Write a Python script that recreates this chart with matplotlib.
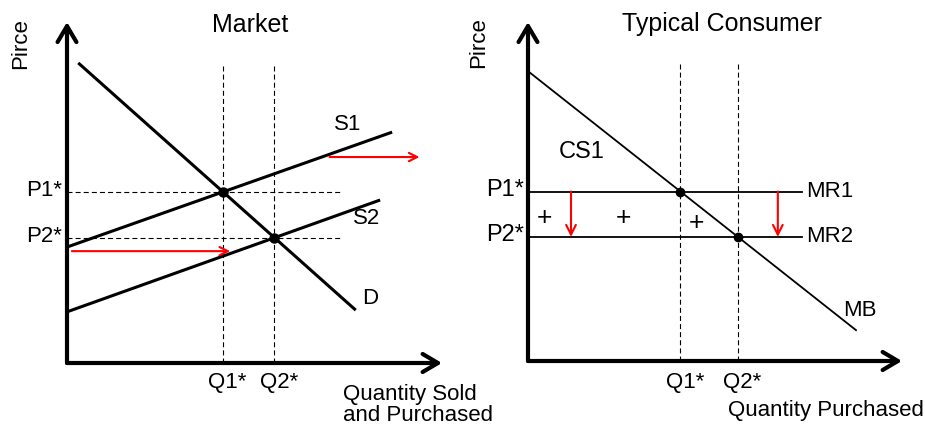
import matplotlib
matplotlib.use("Agg")
import matplotlib.pyplot as plt

plt.rcParams['font.family'] = ['Liberation Sans', 'DejaVu Sans']

# ---------------- Market panel data (quantity, price units) ----------------
demand_q = [0.3, 7.7]
demand_p = [8.8, 1.55]
s1_q = [0.0, 8.67]
s1_p = [3.4, 6.77]
s2_q = [0.0, 8.35]
s2_p = [1.5, 4.78]
shift_top_q = [7.0, 9.4]
shift_top_p = 6.04
shift_bot_q = [0.13, 4.35]
shift_bot_p = 3.28
market_guide_top = 8.77
market_guide_right = 7.33

# ---------------- Typical consumer panel data ----------------
mb_q = [0.0, 8.77]
mb_p = [8.55, 0.91]
mr1_p = 5.0
mr2_p = 3.66
mr_end_q = 7.33
drop_q = [1.15, 6.68]
plus_q = [0.45, 2.56, 4.51]
plus_p = [4.22, 4.22, 4.07]
consumer_guide_top = 8.76

# tick-like labels
price_labels = ["P1*", "P2*"]
qty_labels = ["Q1*", "Q2*"]


def intersect(q_a, p_a, q_b, p_b):
    ma = (p_a[1] - p_a[0]) / (q_a[1] - q_a[0])
    mb = (p_b[1] - p_b[0]) / (q_b[1] - q_b[0])
    ba = p_a[0] - ma * q_a[0]
    bb = p_b[0] - mb * q_b[0]
    q = (bb - ba) / (ma - mb)
    return q, ma * q + ba


def q_at_price(q_line, p_line, p):
    return q_line[0] + (p - p_line[0]) * (q_line[1] - q_line[0]) / (p_line[1] - p_line[0])


fig = plt.figure(figsize=(9.25, 4.26), dpi=100)
axL = fig.add_axes([67 / 925, 63 / 426, 375 / 925, 341 / 426])
axR = fig.add_axes([528 / 925, 65 / 426, 374 / 925, 339 / 426])

dash = (4.5, 2.8)
FS = 16

for ax in (axL, axR):
    ax.set_xlim(0, 10)
    ax.set_ylim(0, 10)
    ax.axis('off')
    ax.annotate('', xy=(0, 1), xytext=(0, 0), xycoords='axes fraction',
                arrowprops=dict(arrowstyle='->,head_length=1.15,head_width=0.68',
                                lw=3, color='black', shrinkA=0, shrinkB=0))
    ax.annotate('', xy=(1, 0), xytext=(0, 0), xycoords='axes fraction',
                arrowprops=dict(arrowstyle='->,head_length=1.1,head_width=0.65',
                                lw=3, color='black', shrinkA=0, shrinkB=0))

# ---------------- Market ----------------
q1, p1 = intersect(demand_q, demand_p, s1_q, s1_p)
q2, p2 = intersect(demand_q, demand_p, s2_q, s2_p)

for q in (q1, q2):
    axL.plot([q, q], [0, market_guide_top], color='black', lw=0.8, dashes=dash)
for p in (p1, p2):
    axL.plot([0, market_guide_right], [p, p], color='black', lw=0.8, dashes=dash)

axL.plot(demand_q, demand_p, color='black', lw=2.2, solid_capstyle='butt')
axL.plot(s1_q, s1_p, color='black', lw=2.2, solid_capstyle='butt')
axL.plot(s2_q, s2_p, color='black', lw=2.2, solid_capstyle='butt')
axL.plot([q1, q2], [p1, p2], 'o', color='black', ms=6.5)

for qs, p in ((shift_top_q, shift_top_p), (shift_bot_q, shift_bot_p)):
    axL.annotate('', xy=(qs[1], p), xytext=(qs[0], p),
                 arrowprops=dict(arrowstyle='->,head_length=0.6,head_width=0.3',
                                 lw=1.5, color='red', shrinkA=0, shrinkB=0))

axL.text(4.88, 9.91, "Market", fontsize=18, ha='center', va='center', clip_on=False)
axL.text(-1.25, 9.38, "Pirce", fontsize=FS, rotation=90, ha='center', va='center', clip_on=False)
for lab, p in zip(price_labels, (p1, p2)):
    axL.text(-0.12, p + 0.05, lab, fontsize=FS, ha='right', va='center', clip_on=False)
for lab, q in zip(qty_labels, (q1, q2)):
    axL.text(q + 0.12, -0.27, lab, fontsize=FS, ha='center', va='top', clip_on=False)
axL.text(7.36, -0.62, "Quantity Sold\nand Purchased", fontsize=FS, ha='left', va='top',
         linespacing=0.98, clip_on=False)
axL.text(7.49, 6.98, "S1", fontsize=FS, ha='center', va='center', clip_on=False)
axL.text(8.0, 4.25, "S2", fontsize=FS, ha='center', va='center', clip_on=False)
axL.text(8.08, 1.88, "D", fontsize=FS, ha='center', va='center', clip_on=False)

# ---------------- Typical Consumer ----------------
cq1 = q_at_price(mb_q, mb_p, mr1_p)
cq2 = q_at_price(mb_q, mb_p, mr2_p)

for q in (cq1, cq2):
    axR.plot([q, q], [0, consumer_guide_top], color='black', lw=0.8, dashes=dash)

axR.plot([0, mr_end_q], [mr1_p, mr1_p], color='black', lw=1.3)
axR.plot([0, mr_end_q], [mr2_p, mr2_p], color='black', lw=1.3)
axR.plot(mb_q, mb_p, color='black', lw=1.3)
axR.plot([cq1, cq2], [mr1_p, mr2_p], 'o', color='black', ms=6)

for q in drop_q:
    axR.annotate('', xy=(q, mr2_p), xytext=(q, mr1_p),
                 arrowprops=dict(arrowstyle='->,head_length=0.7,head_width=0.35',
                                 lw=1.5, color='red', shrinkA=0, shrinkB=0))

for q, p in zip(plus_q, plus_p):
    axR.text(q, p, "+", fontsize=19, ha='center', va='center')

axR.text(5.2, 9.94, "Typical Consumer", fontsize=18, ha='center', va='center', clip_on=False)
axR.text(-1.33, 9.38, "Pirce", fontsize=FS, rotation=90, ha='center', va='center', clip_on=False)
for lab, p in zip(price_labels, (mr1_p, mr2_p)):
    axR.text(-0.12, p + 0.05, lab, fontsize=17, ha='right', va='center', clip_on=False)
for lab, q in zip(qty_labels, (cq1, cq2)):
    axR.text(q + 0.12, -0.33, lab, fontsize=FS, ha='center', va='top', clip_on=False)
axR.text(5.36, -1.15, "Quantity Purchased", fontsize=FS, ha='left', va='top', clip_on=False)
axR.text(7.44, mr1_p, "MR1", fontsize=FS, ha='left', va='center', clip_on=False)
axR.text(7.44, mr2_p, "MR2", fontsize=FS, ha='left', va='center', clip_on=False)
axR.text(8.88, 1.5, "MB", fontsize=FS, ha='center', va='center', clip_on=False)
axR.text(1.44, 6.17, "CS1", fontsize=17, ha='center', va='center', clip_on=False)

fig.savefig("out.png", dpi=100)
